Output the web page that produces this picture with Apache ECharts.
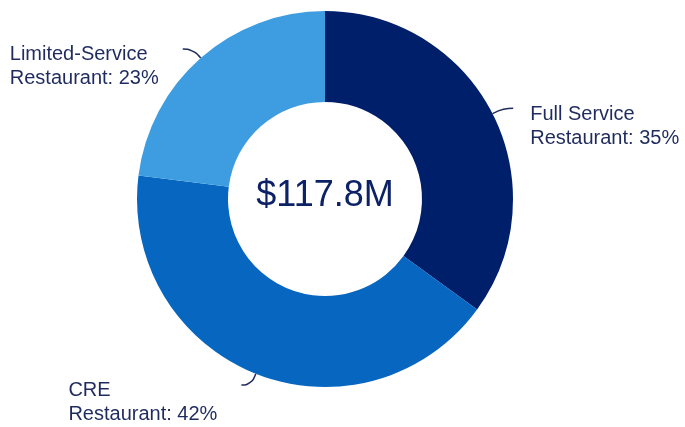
<!DOCTYPE html>
<html>
<head>
<meta charset="utf-8">
<script src="https://cdn.jsdelivr.net/npm/echarts@6/dist/echarts.min.js"></script>
<style>html,body{margin:0;padding:0;background:#fff}#c{width:685px;height:427px}</style>
</head>
<body>
<div id="c"></div>
<script>
const categories = ['Full Service\nRestaurant', 'CRE\nRestaurant', 'Limited-Service\nRestaurant'];
const shares = [35, 42, 23];
const totalLabel = '$117.8M';
const colors = ['#001f6b', '#0766c0', '#3e9de0'];

const chart = echarts.init(document.getElementById('c'), null, {renderer: 'canvas'});
chart.setOption({
  animation: false,
  color: colors,
  series: [{
    type: 'pie',
    center: [325, 199],
    radius: [97, 188],
    startAngle: 90,
    clockwise: true,
    silent: true,
    data: categories.map((c, i) => ({name: c, value: shares[i]})),
    label: {
      show: true,
      position: 'outside',
      formatter: p => p.name.split('\n')[0] + '\n' + p.name.split('\n')[1] + ': ' + p.value + '%',
      fontFamily: 'Liberation Sans, Arial, sans-serif',
      fontSize: 20,
      lineHeight: 24,
      color: '#1f2b5e'
    },
    labelLine: {
      show: true,
      length: 12,
      length2: 10,
      smooth: 0.5,
      lineStyle: {color: '#1f2b5e', width: 1.5}
    },
    labelLayout: function (p) {
      const pts = p.labelLinePoints;
      if (!pts) return {};
      const end = pts[pts.length - 1];
      const right = end[0] > 325;
      return {
        x: right ? end[0] + 17 : end[0] - 24 - p.labelRect.width,
        y: end[1] + 18,
        align: 'left',
        verticalAlign: 'middle',
        labelLinePoints: pts
      };
    }
  }, {
    type: 'pie',
    center: [325, 196],
    radius: [0, 0],
    silent: true,
    label: {
      show: true,
      position: 'center',
      formatter: () => totalLabel,
      fontFamily: 'Liberation Sans, Arial, sans-serif',
      fontSize: 36,
      color: '#0d2266'
    },
    labelLine: {show: false},
    data: [{name: 'total', value: 1, itemStyle: {color: 'transparent'}}]
  }]
});
</script>
</body>
</html>
